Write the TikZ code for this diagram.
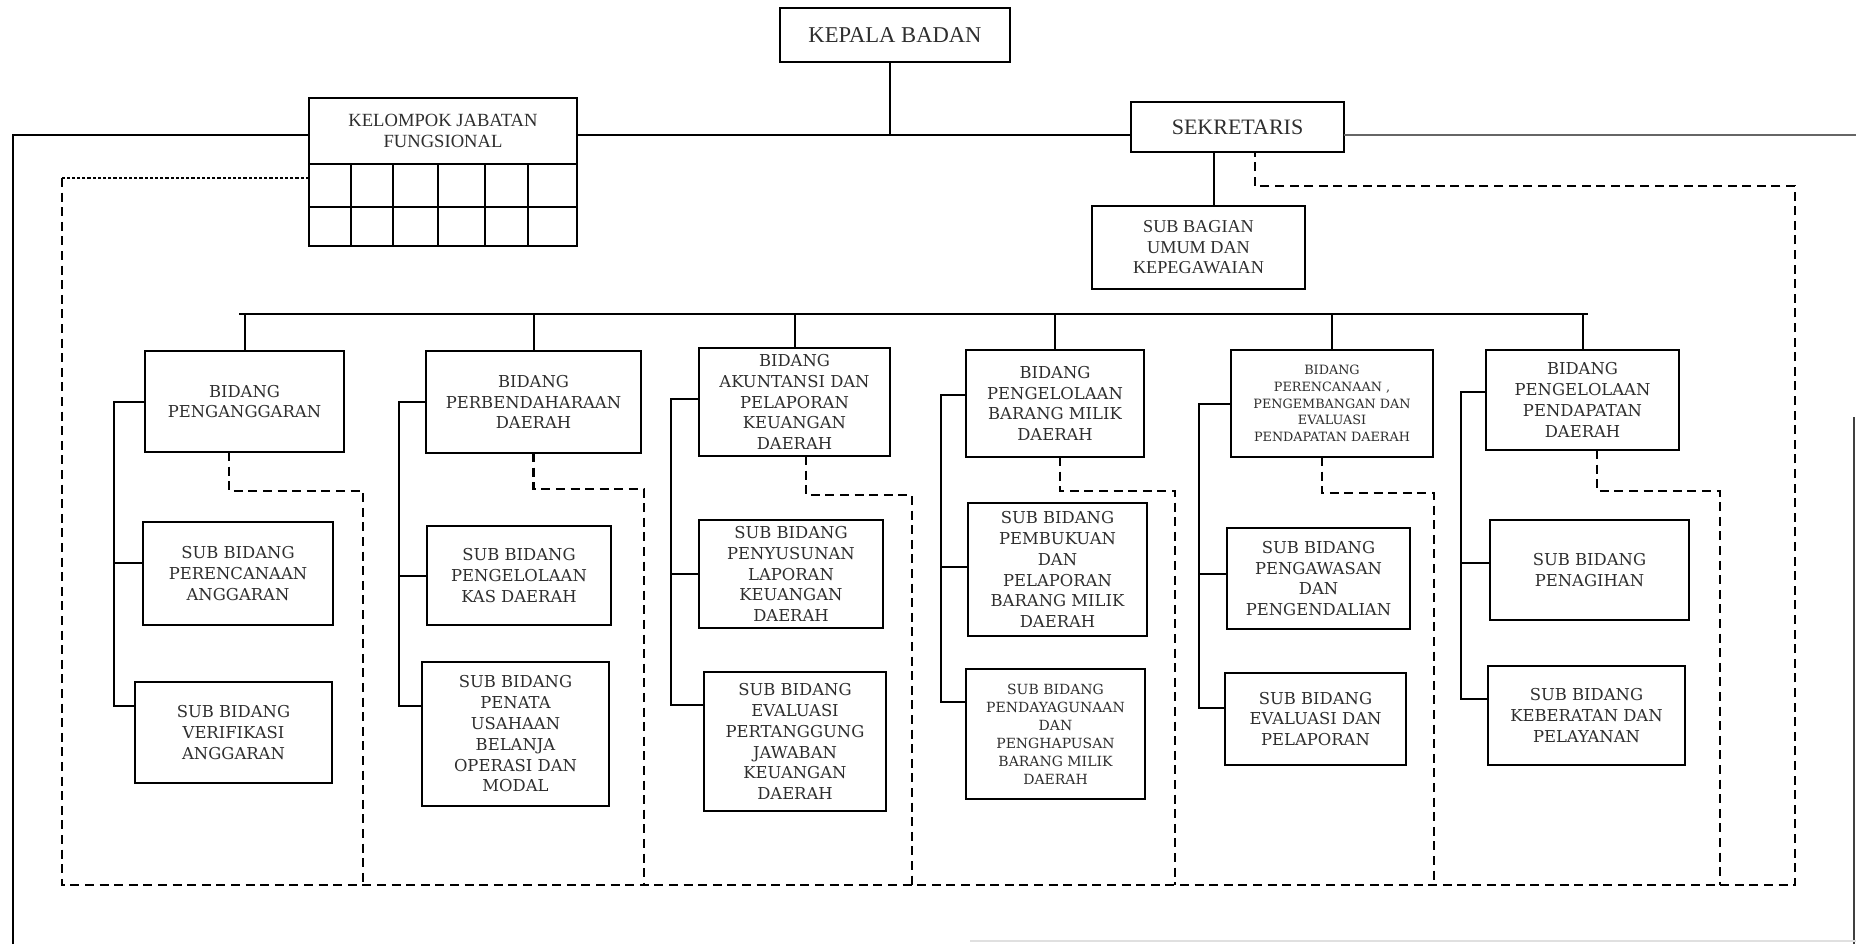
\documentclass[tikz,border=0pt]{standalone}
\usepackage{fontspec}
\setmainfont{DejaVu Serif}
\newfontfamily\timesfont{Liberation Serif}
\usepackage{tikz}

\tikzset{
	unit/.style={draw, line width=1.2pt, inner sep=0pt, outer sep=0pt, align=center, text=black!82},
	topunit/.style={unit, font=\timesfont\fontsize{9.3}{10.2}\selectfont},
	bidunit/.style={unit, font=\fontsize{8.2}{10.4}\selectfont},
	link/.style={line width=1pt},
	dashlink/.style={line width=1.15pt, dash pattern=on 4.5pt off 2.8pt},
	dotlink/.style={line width=0.6pt, dash pattern=on 1.6pt off 1pt}
}

\begin{document}
\begin{tikzpicture}[x=0.5pt, y=-0.5pt]
	\path[fill=white, use as bounding box] (0,0) rectangle (1856,944);

	% pimpinan
	\node[unit, minimum width=115pt, minimum height=27pt, font=\timesfont\fontsize{11.3}{13}\selectfont] (kepala) at (895,35) {KEPALA BADAN};
	\node[topunit, minimum width=134pt, minimum height=33pt] (kjf) at (443,131) {KELOMPOK JABATAN\\FUNGSIONAL};
	\node[unit, minimum width=134pt, minimum height=41pt] (kjfgrid) at (443,205) {};
	\foreach \x in {351,393,438,485,528} {
		\draw[line width=1.2pt] (\x,164) -- (\x,246);
	}
	\draw[line width=1.2pt] (309,207) -- (577,207);
	\node[unit, minimum width=106.5pt, minimum height=25pt, font=\timesfont\fontsize{11}{13}\selectfont] (sekretaris) at (1237.5,127) {SEKRETARIS};
	\node[topunit, minimum width=106.5pt, minimum height=41.5pt, font=\timesfont\fontsize{9.1}{10.2}\selectfont] (subbag) at (1198.5,247.5) {SUB BAGIAN\\UMUM DAN\\KEPEGAWAIAN};

	\coordinate (lft) at (13,135);
	\coordinate (lbot) at (13,944);
	\coordinate (rgt) at (1856,135);
	\draw[link] (lbot) -- (lft) -- (lft -| kjf.west);
	\draw[link] (lft -| kjf.east) -- (lft -| sekretaris.west);
	\draw[link, black!60] (lft -| sekretaris.east) -- (rgt);
	\draw[link] ([xshift=-2.5pt]kepala.south) -- ([xshift=-2.5pt]kepala.south |- lft);
	\draw[link] ([xshift=-11.75pt]sekretaris.south) -- ([xshift=-11.75pt]sekretaris.south |- subbag.north);

	% garis koordinasi luar
	\coordinate (otl) at (62,178);
	\coordinate (otr) at (1795,186);
	\coordinate (obr) at (1795,885);
	\coordinate (obl) at (62,885);
	\draw[dotlink] (otl -| kjfgrid.west) -- (otl);
	\draw[dashlink] (otl) -- (obl) -- (obr) -- (otr) -| ([xshift=8.75pt]sekretaris.south);

	% bidang
	\node[bidunit, minimum width=99.5pt, minimum height=50.5pt] (b1) at (244.5,401.5) {BIDANG\\PENGANGGARAN};
	\node[bidunit, minimum width=107.5pt, minimum height=51pt] (b2) at (533.5,402) {BIDANG\\PERBENDAHARAAN\\DAERAH};
	\node[bidunit, minimum width=95.5pt, minimum height=54pt] (b3) at (794.5,402) {BIDANG\\AKUNTANSI DAN\\PELAPORAN\\KEUANGAN\\DAERAH};
	\node[bidunit, minimum width=89pt, minimum height=53.5pt] (b4) at (1055,403.5) {BIDANG\\PENGELOLAAN\\BARANG MILIK\\DAERAH};
	\node[bidunit, minimum width=101pt, minimum height=53.5pt, font=\fontsize{6.4}{8.3}\selectfont] (b5) at (1332,403.5) {BIDANG\\PERENCANAAN ,\\PENGEMBANGAN DAN\\EVALUASI\\PENDAPATAN DAERAH};
	\node[bidunit, minimum width=96.5pt, minimum height=50pt] (b6) at (1582.5,400) {BIDANG\\PENGELOLAAN\\PENDAPATAN\\DAERAH};

	\coordinate (barL) at (239,314);
	\coordinate (barR) at (1588,314);
	\draw[link] (barL) -- (barR);
	\foreach \i in {1,...,6} {
		\draw[link] (b\i.north) -- (b\i.north |- barL);
	}

	% sub bidang
	\node[bidunit, minimum width=95pt, minimum height=51.5pt] (s1) at (238,573.5) {SUB BIDANG\\PERENCANAAN\\ANGGARAN};
	\node[bidunit, minimum width=98.5pt, minimum height=50.5pt] (s2) at (233.5,732.5) {SUB BIDANG\\VERIFIKASI\\ANGGARAN};
	\node[bidunit, minimum width=92pt, minimum height=49.5pt] (s3) at (519,575.5) {SUB BIDANG\\PENGELOLAAN\\KAS DAERAH};
	\node[bidunit, minimum width=93.5pt, minimum height=72pt] (s4) at (515.5,734) {SUB BIDANG\\PENATA\\USAHAAN\\BELANJA\\OPERASI DAN\\MODAL};
	\node[bidunit, minimum width=92pt, minimum height=54pt] (s5) at (791,574) {SUB BIDANG\\PENYUSUNAN\\LAPORAN\\KEUANGAN\\DAERAH};
	\node[bidunit, minimum width=91pt, minimum height=69.5pt] (s6) at (795,741.5) {SUB BIDANG\\EVALUASI\\PERTANGGUNG\\JAWABAN\\KEUANGAN\\DAERAH};
	\node[bidunit, minimum width=89.5pt, minimum height=66.5pt] (s7) at (1057.5,569.5) {SUB BIDANG\\PEMBUKUAN\\DAN\\PELAPORAN\\BARANG MILIK\\DAERAH};
	\node[bidunit, minimum width=89.5pt, minimum height=65pt, font=\fontsize{7}{9}\selectfont] (s8) at (1055.5,734) {SUB BIDANG\\PENDAYAGUNAAN\\DAN\\PENGHAPUSAN\\BARANG MILIK\\DAERAH};
	\node[bidunit, minimum width=91.5pt, minimum height=50.5pt] (s9) at (1318.5,578.5) {SUB BIDANG\\PENGAWASAN\\DAN\\PENGENDALIAN};
	\node[bidunit, minimum width=90.5pt, minimum height=46pt] (s10) at (1315.5,719) {SUB BIDANG\\EVALUASI DAN\\PELAPORAN};
	\node[bidunit, minimum width=99.5pt, minimum height=50pt] (s11) at (1589.5,570) {SUB BIDANG\\PENAGIHAN};
	\node[bidunit, minimum width=98.5pt, minimum height=49.5pt] (s12) at (1586.5,715.5) {SUB BIDANG\\KEBERATAN DAN\\PELAYANAN};

	% garis komando bidang
	\coordinate (k1) at (114,0);
	\draw[link] (b1.west) -- (b1.west -| k1) -- ([yshift=13.25pt]s2.west -| k1) -- ([yshift=13.25pt]s2.west);
	\draw[link] ([yshift=5.25pt]s1.west) -- ([yshift=5.25pt]s1.west -| k1);
	\coordinate (k2) at (399,0);
	\draw[link] (b2.west) -- (b2.west -| k2) -- ([yshift=14pt]s4.west -| k2) -- ([yshift=14pt]s4.west);
	\draw[link] (s3.west) -- (s3.west -| k2);
	\coordinate (k3) at (671,0);
	\draw[link] ([yshift=1.5pt]b3.west) -- ([yshift=1.5pt]b3.west -| k3) -- ([yshift=18.25pt]s6.west -| k3) -- ([yshift=18.25pt]s6.west);
	\draw[link] (s5.west) -- (s5.west -| k3);
	\coordinate (k4) at (941,0);
	\draw[link] ([yshift=4.25pt]b4.west) -- ([yshift=4.25pt]b4.west -| k4) -- ([yshift=16pt]s8.west -| k4) -- ([yshift=16pt]s8.west);
	\draw[link] ([yshift=1.25pt]s7.west) -- ([yshift=1.25pt]s7.west -| k4);
	\coordinate (k5) at (1199,0);
	\draw[link] (b5.west) -- (b5.west -| k5) -- ([yshift=5.5pt]s10.west -| k5) -- ([yshift=5.5pt]s10.west);
	\draw[link] ([yshift=2.25pt]s9.west) -- ([yshift=2.25pt]s9.west -| k5);
	\coordinate (k6) at (1461,0);
	\draw[link] ([yshift=4pt]b6.west) -- ([yshift=4pt]b6.west -| k6) -- ([yshift=8.25pt]s12.west -| k6) -- ([yshift=8.25pt]s12.west);
	\draw[link] ([yshift=3.5pt]s11.west) -- ([yshift=3.5pt]s11.west -| k6);

	% garis koordinasi bidang
	\coordinate (d1) at (363,491);
	\draw[dashlink] ([xshift=-7.75pt]b1.south) |- (d1) -- (d1 |- obl);
	\coordinate (d2) at (644,489);
	\draw[dashlink] (b2.south) |- (d2) -- (d2 |- obl);
	\coordinate (d3) at (912,495);
	\draw[dashlink] ([xshift=5.75pt]b3.south) |- (d3) -- (d3 |- obl);
	\coordinate (d4) at (1175,491);
	\draw[dashlink] ([xshift=2.5pt]b4.south) |- (d4) -- (d4 |- obl);
	\coordinate (d5) at (1434,493);
	\draw[dashlink] ([xshift=-5pt]b5.south) |- (d5) -- (d5 |- obl);
	\coordinate (d6) at (1720,491);
	\draw[dashlink] ([xshift=7.25pt]b6.south) |- (d6) -- (d6 |- obl);

	% tepi kertas
	\draw[line width=0.8pt, black!75] (1854,417) -- (1854,944);
	\draw[line width=0.8pt, black!12] (970,941) -- (1856,941);
\end{tikzpicture}
\end{document}
